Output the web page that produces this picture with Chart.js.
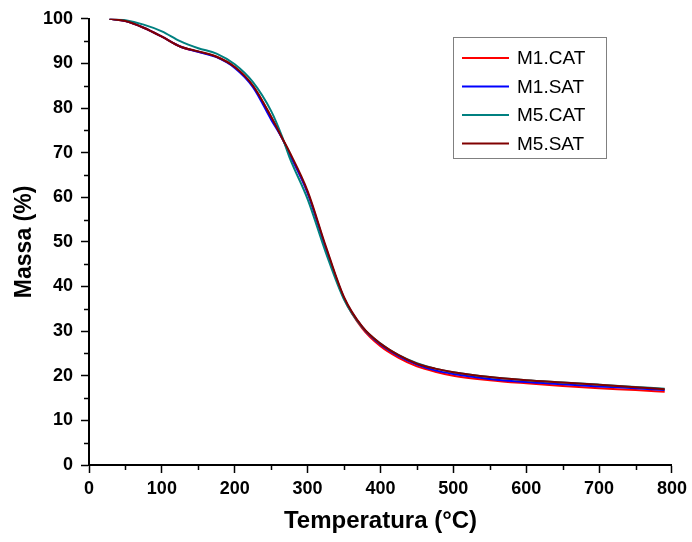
<!DOCTYPE html>
<html>
<head>
<meta charset="utf-8">
<script src="https://cdn.jsdelivr.net/npm/chart.js@4.4.0/dist/chart.umd.min.js"></script>
<style>
  html, body { margin: 0; padding: 0; background: #fff; }
  #tga { display: block; }
</style>
</head>
<body>
<canvas id="tga" width="692" height="542"></canvas>
<script>
// temperatures (°C) where the curves were read
const temps = [28, 50, 75, 100, 125, 150, 175, 200, 225, 250, 265, 275, 300, 325, 350, 375, 400, 425, 450, 475, 500, 550, 600, 650, 700, 750, 790];

// mass (%) per sample
const m1cat = [100, 99.5, 98.0, 96.0, 93.8, 92.6, 91.5, 89.2, 85.0, 78.0, 73.3, 69.8, 61.0, 48.6, 37.3, 30.6, 26.6, 24.0, 22.1, 20.9, 20.0, 19.0, 18.3, 17.7, 17.2, 16.8, 16.4];
const m1sat = [100, 99.5, 98.0, 96.0, 93.8, 92.6, 91.4, 89.0, 84.7, 77.4, 73.2, 69.8, 61.0, 48.6, 37.4, 30.9, 27.0, 24.4, 22.5, 21.2, 20.4, 19.3, 18.6, 18.1, 17.6, 17.2, 16.8];
const m5cat = [100, 99.7, 98.7, 97.2, 95.0, 93.4, 92.2, 89.8, 85.8, 79.3, 73.6, 69.0, 59.6, 47.6, 37.1, 30.9, 27.2, 24.6, 22.8, 21.6, 20.8, 19.7, 19.0, 18.5, 18.0, 17.5, 17.1];
const m5sat = [100, 99.5, 98.0, 96.0, 93.8, 92.7, 91.5, 89.2, 85.0, 78.0, 73.3, 70.2, 61.4, 49.0, 37.6, 31.0, 27.2, 24.6, 22.7, 21.6, 20.8, 19.7, 19.0, 18.5, 18.0, 17.4, 17.0];

const seriesNames = ['M1.CAT', 'M1.SAT', 'M5.CAT', 'M5.SAT'];
const seriesColors = ['#ff0000', '#0000ff', '#008080', '#800000'];
const seriesValues = [m1cat, m1sat, m5cat, m5sat];

const xTicks = [0, 100, 200, 300, 400, 500, 600, 700, 800];
const yTicks = [0, 10, 20, 30, 40, 50, 60, 70, 80, 90, 100];

const toPoints = vals => temps.map((t, i) => ({ x: t, y: vals[i] }));

// last dataset in Origin sits on top, so feed Chart.js in reverse (index 0 is drawn last)
const datasets = seriesNames.map((name, i) => ({
  label: name,
  data: toPoints(seriesValues[i]),
  borderColor: seriesColors[i],
  borderWidth: 2,
  pointRadius: 0,
  cubicInterpolationMode: 'monotone',
  fill: false
})).reverse();

// minor ticks + boxed legend inside the plot
const extras = {
  id: 'extras',
  afterDraw(chart) {
    const c = chart.ctx;
    const xs = chart.scales.x, ys = chart.scales.y;
    c.save();
    c.strokeStyle = '#000';
    c.lineWidth = 1.5;
    c.beginPath();
    for (let i = 0; i < xTicks.length - 1; i++) {
      const px = Math.round(xs.getPixelForValue((xTicks[i] + xTicks[i + 1]) / 2)) + 0.5;
      c.moveTo(px, ys.bottom);
      c.lineTo(px, ys.bottom + 5);
    }
    for (let i = 0; i < yTicks.length - 1; i++) {
      const py = Math.round(ys.getPixelForValue((yTicks[i] + yTicks[i + 1]) / 2)) + 0.5;
      c.moveTo(xs.left, py);
      c.lineTo(xs.left - 5, py);
    }
    c.stroke();

    // legend box
    c.strokeStyle = '#808080';
    c.lineWidth = 1;
    c.strokeRect(453.5, 37.5, 153, 121);
    c.font = '19px "Liberation Sans", Arial, sans-serif';
    c.textBaseline = 'middle';
    c.fillStyle = '#000';
    seriesNames.forEach((name, i) => {
      const y = 58 + i * 28.5;
      c.strokeStyle = seriesColors[i];
      c.lineWidth = 2;
      c.beginPath();
      c.moveTo(462, y);
      c.lineTo(509, y);
      c.stroke();
      c.fillText(name, 517, y + 1);
    });
    c.restore();
  }
};

const tickFont = { family: '"Liberation Sans", Arial, sans-serif', size: 18, weight: 'bold' };

new Chart(document.getElementById('tga'), {
  type: 'line',
  data: { datasets: datasets },
  plugins: [extras],
  options: {
    responsive: false,
    animation: false,
    layout: { padding: { left: 0, right: 18, top: 18, bottom: 0 } },
    plugins: {
      legend: { display: false },
      tooltip: { enabled: false }
    },
    scales: {
      x: {
        type: 'linear',
        min: 0,
        max: 800,
        afterBuildTicks: s => { s.ticks = xTicks.map(v => ({ value: v })); },
        afterFit: s => { s.height = 77; },
        border: { display: true, color: '#000', width: 2 },
        grid: { drawOnChartArea: false, drawTicks: true, tickLength: 8, tickColor: '#000', tickWidth: 1.5 },
        ticks: { color: '#000', font: tickFont, padding: 5, maxRotation: 0 },
        title: {
          display: true,
          text: 'Temperatura (°C)',
          color: '#000',
          font: { family: '"Liberation Sans", Arial, sans-serif', size: 24, weight: 'bold' },
          padding: { top: 0, bottom: 6 }
        }
      },
      y: {
        type: 'linear',
        min: 0,
        max: 100,
        afterBuildTicks: s => { s.ticks = yTicks.map(v => ({ value: v })); },
        afterFit: s => { s.width = 89; },
        border: { display: true, color: '#000', width: 2 },
        grid: { drawOnChartArea: false, drawTicks: true, tickLength: 8, tickColor: '#000', tickWidth: 1.5 },
        ticks: { color: '#000', font: tickFont, padding: 8 },
        title: {
          display: true,
          text: 'Massa (%)',
          color: '#000',
          font: { family: '"Liberation Sans", Arial, sans-serif', size: 23, weight: 'bold' },
          padding: { top: 11, bottom: 0 }
        }
      }
    }
  }
});
</script>
</body>
</html>
